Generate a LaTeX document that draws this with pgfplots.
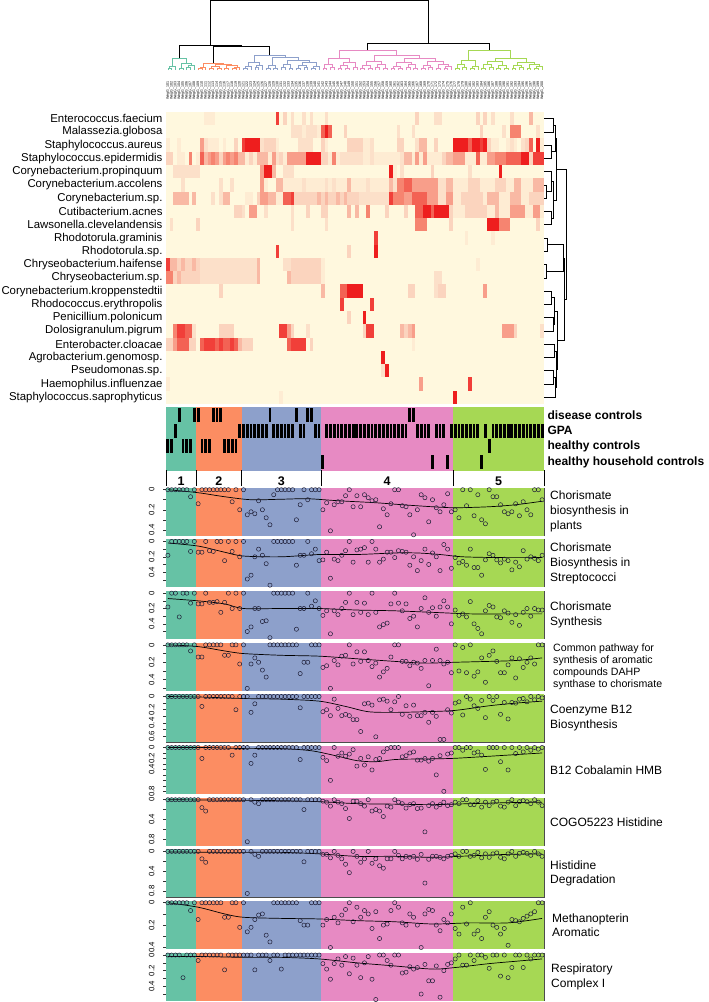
\documentclass[border=0pt]{standalone}
\usepackage{fontspec}
\setmainfont{Liberation Sans}
\usepackage{pgfplots}
\pgfplotsset{compat=1.18}
\definecolor{cA}{RGB}{102,194,165}
\definecolor{cB}{RGB}{252,141,98}
\definecolor{cC}{RGB}{141,160,203}
\definecolor{cD}{RGB}{231,138,195}
\definecolor{cE}{RGB}{166,216,84}
\definecolor{ptc}{RGB}{30,30,55}
\pgfdeclareplotmark{hcell}{\pgfpathrectangle{\pgfqpoint{-1.95pt}{-6.75pt}}{\pgfqpoint{3.9pt}{13.5pt}}\pgfusepathqfill}
\pgfdeclareplotmark{annbar}{\pgfpathrectangle{\pgfqpoint{-1.4pt}{-7pt}}{\pgfqpoint{2.8pt}{14pt}}\pgfusepathqfill}
\pgfplotsset{
 base/.style={scale only axis, anchor=north west, xmin=-0.5, xmax=99.5},
 panel/.style={base, width=378pt, height=47pt, y dir=reverse, xtick=\empty, ytick pos=left, tick align=outside, major tick length=3pt, axis line style={draw=black!70, line width=0.6pt}, tick style={black!80, line width=0.5pt}, yticklabel style={rotate=90, anchor=south, font=\fontsize{7.8}{8}\selectfont}, yticklabel shift=5pt},
 pts/.style={only marks, mark=o, mark size=2.1pt, mark options={draw=ptc, line width=0.5pt}},
 loess/.style={smooth, black, line width=0.7pt, no marks},
 hm/.style={scatter, only marks, mark=hcell, point meta=explicit}
}
\newcommand{\bg}{%
\addplot[fill=cA, draw=none] coordinates {(-0.5,-1) (7.5,-1) (7.5,5) (-0.5,5)};
\addplot[fill=cB, draw=none] coordinates {(7.5,-1) (19.5,-1) (19.5,5) (7.5,5)};
\addplot[fill=cC, draw=none] coordinates {(19.5,-1) (40.5,-1) (40.5,5) (19.5,5)};
\addplot[fill=cD, draw=none] coordinates {(40.5,-1) (75.5,-1) (75.5,5) (40.5,5)};
\addplot[fill=cE, draw=none] coordinates {(75.5,-1) (99.5,-1) (99.5,5) (75.5,5)};
}
\newcommand{\hrow}[2]{\addplot[hm] table[row sep=\\, x expr=\coordindex, y expr=#1, meta=z] {z\\#2};}
\newcommand{\panel}[7]{%
\begin{axis}[panel, at={(166pt,-#1pt)}, ymin=#2, ymax=#3, ytick={#4}, yticklabels={#5}]
\bg
\addplot[pts] table[row sep=\\, x expr=\coordindex, y=v] {v\\#6};
\addplot[loess] coordinates {#7};
\end{axis}}
\begin{document}
\begin{tikzpicture}
\path[use as bounding box] (0pt,0pt) rectangle (709pt,-1002pt);
% ---------- column dendrogram
\begin{axis}[base, at={(166pt,0pt)}, width=378pt, height=70pt, ymin=0, ymax=70, hide axis, clip=false, unbounded coords=jump]
\addplot[cA, line width=0.6pt] coordinates {(0,0)(0,2)(1,2)(1,0)(nan,nan)(0.5,2)(0.5,4)(2,4)(2,0)(nan,nan)(3,0)(3,2)(4,2)(4,0)(nan,nan)(5,0)(5,3)(6,3)(6,0)(nan,nan)(5.5,3)(5.5,5)(7,5)(7,0)(nan,nan)(3.5,2)(3.5,7)(6.25,7)(6.25,5)(nan,nan)(1.25,4)(1.25,12)(4.875,12)(4.875,7)};
\addplot[cB, line width=0.6pt] coordinates {(8,0)(8,1.5)(9,1.5)(9,0)(nan,nan)(8.5,1.5)(8.5,3)(10,3)(10,0)(nan,nan)(11,0)(11,1.5)(12,1.5)(12,0)(nan,nan)(13,0)(13,2)(14,2)(14,0)(nan,nan)(11.5,1.5)(11.5,3.5)(13.5,3.5)(13.5,2)(nan,nan)(15,0)(15,1.5)(16,1.5)(16,0)(nan,nan)(17,0)(17,1.5)(18,1.5)(18,0)(nan,nan)(17.5,1.5)(17.5,3)(19,3)(19,0)(nan,nan)(15.5,1.5)(15.5,4.5)(18.25,4.5)(18.25,3)(nan,nan)(12.5,3.5)(12.5,5.5)(16.875,5.5)(16.875,4.5)(nan,nan)(9.25,3)(9.25,7)(14.69,7)(14.69,5.5)};
\addplot[cC, line width=0.6pt] coordinates {(20,0)(20,2)(21,2)(21,0)(nan,nan)(20.5,2)(20.5,4)(22,4)(22,0)(nan,nan)(23,0)(23,3)(24,3)(24,0)(nan,nan)(23.5,3)(23.5,5)(25,5)(25,0)(nan,nan)(21.25,4)(21.25,8)(24.25,8)(24.25,5)(nan,nan)(26,0)(26,2)(27,2)(27,0)(nan,nan)(28,0)(28,2)(29,2)(29,0)(nan,nan)(26.5,2)(26.5,5)(28.5,5)(28.5,2)(nan,nan)(30,0)(30,3)(31,3)(31,0)(nan,nan)(32,0)(32,2)(33,2)(33,0)(nan,nan)(30.5,3)(30.5,6)(32.5,6)(32.5,2)(nan,nan)(34,0)(34,2)(35,2)(35,0)(nan,nan)(36,0)(36,3)(37,3)(37,0)(nan,nan)(34.5,2)(34.5,5)(36.5,5)(36.5,3)(nan,nan)(38,0)(38,2)(39,2)(39,0)(nan,nan)(38.5,2)(38.5,4)(40,4)(40,0)(nan,nan)(35.5,5)(35.5,8)(39.25,8)(39.25,4)(nan,nan)(31.5,6)(31.5,10)(37.375,10)(37.375,8)(nan,nan)(27.5,5)(27.5,13)(34.44,13)(34.44,10)(nan,nan)(22.75,8)(22.75,15)(30.97,15)(30.97,13)};
\addplot[cD, line width=0.6pt] coordinates {(41,0)(41,2)(42,2)(42,0)(nan,nan)(43,0)(43,3)(44,3)(44,0)(nan,nan)(41.5,2)(41.5,6)(43.5,6)(43.5,3)(nan,nan)(45,0)(45,2)(46,2)(46,0)(nan,nan)(47,0)(47,2)(48,2)(48,0)(nan,nan)(45.5,2)(45.5,5)(47.5,5)(47.5,2)(nan,nan)(49,0)(49,3)(50,3)(50,0)(nan,nan)(46.5,5)(46.5,8)(49.5,8)(49.5,3)(nan,nan)(42.5,6)(42.5,12)(48,12)(48,8)(nan,nan)(51,0)(51,2)(52,2)(52,0)(nan,nan)(53,0)(53,2)(54,2)(54,0)(nan,nan)(51.5,2)(51.5,5)(53.5,5)(53.5,2)(nan,nan)(55,0)(55,3)(56,3)(56,0)(nan,nan)(57,0)(57,2)(58,2)(58,0)(nan,nan)(55.5,3)(55.5,6)(57.5,6)(57.5,2)(nan,nan)(52.5,5)(52.5,9)(56.5,9)(56.5,6)(nan,nan)(59,0)(59,2)(60,2)(60,0)(nan,nan)(61,0)(61,2)(62,2)(62,0)(nan,nan)(59.5,2)(59.5,4)(61.5,4)(61.5,2)(nan,nan)(63,0)(63,3)(64,3)(64,0)(nan,nan)(65,0)(65,2)(66,2)(66,0)(nan,nan)(63.5,3)(63.5,6)(65.5,6)(65.5,2)(nan,nan)(60.5,4)(60.5,8)(64.5,8)(64.5,6)(nan,nan)(67,0)(67,2)(68,2)(68,0)(nan,nan)(69,0)(69,3)(70,3)(70,0)(nan,nan)(67.5,2)(67.5,5)(69.5,5)(69.5,3)(nan,nan)(71,0)(71,2)(72,2)(72,0)(nan,nan)(73,0)(73,2)(74,2)(74,0)(nan,nan)(73.5,2)(73.5,4)(75,4)(75,0)(nan,nan)(71.5,2)(71.5,6)(74.25,6)(74.25,4)(nan,nan)(68.5,5)(68.5,9)(72.875,9)(72.875,6)(nan,nan)(62.5,8)(62.5,12)(70.69,12)(70.69,9)(nan,nan)(54.5,9)(54.5,15)(66.59,15)(66.59,12)(nan,nan)(45.25,12)(45.25,20)(60.55,20)(60.55,15)};
\addplot[cE, line width=0.6pt] coordinates {(76,0)(76,2)(77,2)(77,0)(nan,nan)(78,0)(78,3)(79,3)(79,0)(nan,nan)(76.5,2)(76.5,6)(78.5,6)(78.5,3)(nan,nan)(80,0)(80,2)(81,2)(81,0)(nan,nan)(80.5,2)(80.5,4)(82,4)(82,0)(nan,nan)(77.5,6)(77.5,10)(81.25,10)(81.25,4)(nan,nan)(83,0)(83,2)(84,2)(84,0)(nan,nan)(85,0)(85,3)(86,3)(86,0)(nan,nan)(83.5,2)(83.5,6)(85.5,6)(85.5,3)(nan,nan)(87,0)(87,2)(88,2)(88,0)(nan,nan)(89,0)(89,2)(90,2)(90,0)(nan,nan)(87.5,2)(87.5,5)(89.5,5)(89.5,2)(nan,nan)(84.5,6)(84.5,9)(88.5,9)(88.5,5)(nan,nan)(91,0)(91,2)(92,2)(92,0)(nan,nan)(93,0)(93,3)(94,3)(94,0)(nan,nan)(91.5,2)(91.5,5)(93.5,5)(93.5,3)(nan,nan)(95,0)(95,2)(96,2)(96,0)(nan,nan)(97,0)(97,2)(98,2)(98,0)(nan,nan)(97.5,2)(97.5,4)(99,4)(99,0)(nan,nan)(95.5,2)(95.5,6)(98.25,6)(98.25,4)(nan,nan)(92.5,5)(92.5,8)(96.875,8)(96.875,6)(nan,nan)(86.5,9)(86.5,12)(94.69,12)(94.69,8)(nan,nan)(79.375,10)(79.375,20)(90.59,20)(90.59,12)};
\addplot[black, line width=0.8pt] coordinates {(11.97,7)(11.97,23.3)(26.86,23.3)(26.86,15)(nan,nan)(3.06,12)(3.06,25)(19.41,25)(19.41,23.3)(nan,nan)(52.9,20)(52.9,26.7)(84.98,26.7)(84.98,20)(nan,nan)(11.24,25)(11.24,69.5)(68.94,69.5)(68.94,26.7)};
\end{axis}
% ---------- heatmap
\begin{axis}[base, at={(166pt,-112pt)}, width=378pt, height=292pt, ymin=-0.5, ymax=21.5, y dir=reverse,
 colormap={hmap}{rgb255(0cm)=(255,248,222) rgb255(3cm)=(251,212,190) rgb255(6cm)=(246,132,112) rgb255(9cm)=(238,30,30)}, point meta min=0, point meta max=9,
 axis line style={draw=none}, tick style={draw=none}, major tick length=0pt,
 ytick={0,...,21},
 yticklabels={Enterococcus.faecium,Malassezia.globosa,Staphylococcus.aureus,Staphylococcus.epidermidis,Corynebacterium.propinquum,Corynebacterium.accolens,Corynebacterium.sp.,Cutibacterium.acnes,Lawsonella.clevelandensis,Rhodotorula.graminis,Rhodotorula.sp.,Chryseobacterium.haifense,Chryseobacterium.sp.,Corynebacterium.kroppenstedtii,Rhodococcus.erythropolis,Penicillium.polonicum,Dolosigranulum.pigrum,Enterobacter.cloacae,Agrobacterium.genomosp.,Pseudomonas.sp.,Haemophilus.influenzae,Staphylococcus.saprophyticus},
 yticklabel style={font=\fontsize{11.4}{12}\selectfont},
 xtick={0,...,99}, xticklabel pos=upper,
 xticklabel={\pgfmathtruncatemacro{\n}{\tick+101}WegG\_\n},
 xticklabel style={rotate=90, anchor=west, font=\fontsize{3.6}{4}\selectfont, text=black}, xticklabel shift=9pt]
\hrow{0}{0\\0\\0\\0\\0\\0\\0\\0\\0\\0\\1\\1\\1\\0\\0\\0\\0\\0\\0\\0\\0\\0\\0\\0\\0\\0\\0\\0\\0\\8\\0\\3\\0\\2\\0\\0\\2\\0\\2\\0\\0\\0\\2\\0\\0\\0\\0\\0\\0\\0\\0\\0\\0\\0\\0\\0\\0\\0\\0\\0\\0\\0\\0\\0\\0\\0\\3\\0\\0\\0\\0\\2\\2\\0\\0\\0\\0\\0\\0\\0\\0\\0\\3\\0\\3\\0\\2\\0\\0\\0\\0\\2\\0\\0\\0\\0\\4\\0\\0\\0\\}
\hrow{1}{0\\0\\0\\0\\0\\0\\0\\0\\0\\0\\0\\0\\0\\0\\0\\0\\0\\0\\0\\0\\0\\0\\0\\0\\0\\0\\0\\0\\0\\0\\0\\0\\0\\2\\2\\2\\1\\2\\2\\2\\1\\7\\9\\7\\0\\0\\0\\3\\0\\0\\0\\0\\0\\0\\0\\0\\0\\0\\0\\0\\0\\2\\0\\0\\0\\2\\0\\0\\0\\0\\0\\0\\0\\0\\0\\0\\0\\0\\0\\0\\0\\0\\0\\3\\0\\0\\0\\0\\0\\2\\0\\6\\6\\6\\0\\0\\0\\0\\2\\0\\}
\hrow{2}{1\\0\\0\\1\\0\\0\\0\\0\\0\\5\\2\\1\\1\\1\\0\\1\\0\\0\\3\\0\\8\\9\\9\\9\\9\\2\\3\\3\\3\\1\\0\\0\\0\\0\\0\\2\\2\\2\\2\\0\\0\\3\\1\\0\\0\\0\\0\\0\\3\\3\\3\\3\\1\\1\\2\\0\\0\\0\\0\\0\\0\\3\\3\\0\\0\\0\\2\\4\\4\\0\\0\\3\\0\\0\\0\\0\\9\\9\\9\\9\\7\\9\\9\\8\\9\\3\\1\\1\\0\\0\\1\\2\\1\\0\\2\\3\\7\\0\\9\\1\\}
\hrow{3}{3\\3\\0\\1\\1\\0\\6\\0\\1\\7\\4\\5\\6\\5\\3\\5\\6\\5\\6\\4\\4\\1\\3\\1\\4\\4\\4\\1\\5\\2\\3\\1\\5\\5\\5\\5\\5\\9\\9\\9\\9\\3\\3\\1\\6\\1\\2\\2\\2\\2\\2\\2\\1\\1\\2\\1\\1\\1\\1\\1\\1\\1\\2\\4\\4\\1\\5\\1\\5\\1\\1\\1\\1\\3\\4\\4\\5\\5\\5\\1\\1\\1\\7\\1\\1\\5\\5\\6\\6\\6\\7\\7\\7\\7\\9\\9\\3\\8\\8\\8\\}
\hrow{4}{0\\0\\2\\2\\2\\2\\2\\2\\2\\0\\0\\0\\0\\0\\0\\0\\0\\0\\0\\0\\0\\0\\0\\0\\0\\5\\9\\9\\4\\0\\0\\2\\2\\2\\0\\0\\0\\0\\0\\0\\0\\0\\0\\0\\0\\0\\0\\0\\0\\0\\0\\0\\0\\0\\0\\0\\0\\0\\0\\9\\1\\0\\2\\0\\0\\0\\0\\0\\0\\0\\3\\0\\0\\0\\0\\0\\0\\0\\0\\0\\2\\0\\0\\0\\0\\0\\0\\0\\9\\0\\0\\0\\0\\0\\0\\0\\0\\0\\0\\0\\}
\hrow{5}{0\\0\\0\\0\\2\\0\\0\\0\\0\\0\\0\\0\\0\\0\\2\\0\\0\\2\\0\\0\\0\\0\\0\\0\\0\\5\\1\\0\\0\\4\\4\\1\\1\\1\\1\\1\\2\\1\\1\\1\\1\\1\\2\\1\\2\\1\\1\\1\\4\\1\\1\\1\\1\\2\\1\\1\\1\\1\\1\\4\\2\\6\\6\\7\\7\\5\\5\\5\\5\\5\\5\\5\\2\\2\\4\\4\\1\\1\\1\\1\\3\\3\\3\\1\\1\\1\\1\\3\\3\\3\\1\\1\\4\\4\\1\\1\\1\\4\\4\\4\\}
\hrow{6}{0\\0\\4\\4\\4\\4\\0\\4\\0\\0\\0\\0\\2\\0\\2\\4\\4\\0\\0\\0\\0\\1\\1\\0\\3\\5\\5\\4\\4\\1\\1\\7\\7\\8\\3\\3\\3\\3\\3\\3\\4\\3\\4\\3\\3\\4\\3\\4\\3\\3\\3\\2\\2\\2\\2\\2\\2\\2\\2\\8\\6\\6\\6\\5\\5\\7\\7\\7\\7\\5\\5\\5\\2\\2\\5\\5\\1\\1\\3\\3\\3\\3\\3\\3\\1\\4\\4\\4\\1\\1\\1\\4\\4\\4\\1\\1\\3\\3\\3\\3\\}
\hrow{7}{0\\0\\0\\0\\0\\0\\0\\0\\0\\0\\0\\0\\0\\0\\0\\0\\0\\0\\3\\3\\2\\0\\5\\5\\0\\0\\2\\0\\0\\0\\0\\0\\0\\2\\0\\0\\0\\3\\0\\0\\0\\3\\3\\0\\0\\0\\0\\0\\4\\0\\4\\0\\0\\6\\0\\0\\0\\0\\3\\0\\0\\0\\0\\3\\0\\0\\7\\7\\9\\9\\7\\9\\9\\9\\9\\3\\1\\1\\1\\3\\3\\3\\3\\3\\3\\1\\1\\4\\1\\1\\1\\5\\5\\5\\5\\1\\1\\5\\5\\1\\}
\hrow{8}{0\\2\\0\\0\\0\\0\\0\\0\\3\\0\\0\\0\\0\\0\\0\\0\\0\\0\\0\\0\\0\\0\\0\\0\\0\\0\\0\\0\\0\\0\\0\\0\\0\\2\\0\\0\\0\\0\\0\\0\\0\\0\\2\\0\\0\\0\\0\\0\\0\\0\\0\\0\\0\\0\\0\\0\\0\\0\\0\\0\\0\\0\\0\\0\\0\\0\\6\\6\\6\\0\\0\\0\\0\\0\\0\\3\\0\\0\\0\\0\\0\\0\\0\\0\\0\\9\\9\\9\\6\\6\\6\\0\\0\\0\\0\\0\\0\\0\\3\\0\\}
\hrow{9}{0\\0\\0\\0\\0\\0\\0\\0\\0\\0\\0\\0\\0\\0\\0\\0\\0\\0\\0\\0\\0\\0\\0\\0\\0\\0\\0\\0\\0\\0\\0\\0\\0\\0\\0\\0\\0\\0\\0\\0\\0\\0\\0\\0\\0\\0\\0\\0\\0\\0\\0\\0\\0\\0\\0\\8\\0\\0\\0\\0\\0\\0\\0\\0\\0\\0\\0\\0\\0\\0\\0\\0\\0\\0\\0\\0\\0\\0\\0\\1\\0\\0\\0\\0\\0\\0\\1\\0\\0\\0\\0\\0\\0\\0\\0\\0\\0\\0\\0\\0\\}
\hrow{10}{0\\0\\0\\0\\0\\0\\0\\0\\0\\0\\0\\0\\0\\0\\0\\0\\0\\0\\0\\0\\0\\0\\0\\0\\0\\0\\0\\0\\0\\8\\0\\0\\0\\0\\0\\0\\0\\0\\0\\0\\0\\0\\0\\0\\0\\0\\0\\0\\3\\0\\0\\0\\0\\0\\0\\9\\0\\0\\0\\0\\0\\0\\0\\0\\0\\0\\0\\0\\0\\0\\0\\0\\0\\0\\0\\0\\0\\0\\0\\0\\0\\0\\0\\0\\0\\0\\0\\0\\0\\0\\0\\0\\0\\0\\0\\0\\0\\0\\0\\0\\}
\hrow{11}{8\\4\\4\\3\\4\\3\\3\\4\\3\\2\\2\\2\\2\\2\\2\\2\\2\\2\\2\\2\\2\\2\\2\\2\\4\\0\\0\\0\\0\\0\\0\\2\\2\\3\\3\\3\\3\\3\\3\\3\\3\\1\\0\\0\\0\\0\\0\\0\\0\\0\\0\\0\\0\\0\\0\\0\\0\\0\\0\\0\\0\\0\\0\\0\\0\\0\\0\\0\\0\\0\\0\\0\\0\\0\\0\\0\\0\\0\\0\\0\\0\\0\\1\\0\\0\\0\\0\\0\\0\\0\\0\\0\\0\\0\\0\\0\\0\\0\\0\\0\\}
\hrow{12}{6\\6\\3\\4\\3\\3\\3\\3\\3\\2\\2\\2\\2\\2\\2\\2\\2\\2\\2\\2\\2\\2\\2\\2\\4\\0\\0\\0\\0\\0\\0\\0\\4\\3\\3\\3\\3\\3\\3\\3\\3\\1\\0\\0\\0\\0\\0\\0\\0\\0\\0\\0\\0\\0\\0\\0\\0\\0\\0\\0\\0\\0\\0\\0\\0\\0\\0\\0\\0\\0\\0\\2\\2\\0\\0\\0\\0\\0\\0\\0\\0\\0\\0\\0\\0\\0\\0\\0\\0\\0\\0\\0\\0\\0\\0\\0\\0\\0\\0\\0\\}
\hrow{13}{0\\0\\0\\0\\0\\0\\0\\0\\0\\0\\0\\0\\0\\0\\3\\0\\0\\0\\0\\0\\0\\0\\0\\0\\0\\0\\0\\0\\0\\0\\0\\0\\0\\0\\0\\0\\0\\0\\0\\0\\0\\4\\0\\0\\0\\0\\7\\7\\9\\9\\9\\9\\0\\0\\0\\0\\0\\0\\0\\0\\0\\0\\0\\0\\3\\3\\0\\0\\0\\0\\0\\2\\3\\3\\0\\0\\0\\0\\0\\0\\0\\0\\0\\0\\5\\0\\0\\0\\0\\0\\0\\0\\0\\0\\0\\0\\0\\0\\0\\0\\}
\hrow{14}{0\\0\\0\\0\\0\\0\\0\\0\\0\\0\\0\\0\\0\\0\\0\\0\\0\\0\\0\\0\\0\\0\\0\\0\\0\\0\\0\\0\\0\\0\\0\\0\\0\\0\\0\\0\\0\\0\\0\\0\\0\\0\\0\\0\\0\\0\\8\\0\\0\\0\\0\\0\\0\\0\\8\\0\\0\\0\\0\\0\\0\\0\\0\\0\\0\\0\\0\\0\\0\\0\\0\\0\\0\\0\\0\\0\\0\\0\\0\\0\\0\\0\\0\\0\\0\\0\\0\\0\\0\\0\\0\\0\\0\\0\\0\\0\\0\\0\\0\\0\\}
\hrow{15}{0\\0\\0\\0\\0\\0\\0\\0\\0\\0\\0\\0\\0\\0\\0\\0\\0\\0\\0\\0\\0\\0\\0\\0\\0\\0\\0\\0\\0\\0\\0\\0\\0\\0\\0\\0\\0\\0\\0\\0\\0\\0\\0\\0\\0\\0\\0\\0\\3\\0\\0\\0\\9\\0\\0\\0\\0\\0\\0\\0\\0\\0\\0\\0\\0\\0\\0\\0\\0\\0\\0\\0\\0\\0\\0\\0\\0\\0\\0\\0\\0\\0\\0\\0\\0\\0\\0\\0\\0\\0\\0\\0\\0\\0\\0\\0\\0\\0\\0\\0\\}
\hrow{16}{0\\0\\6\\8\\8\\7\\7\\2\\0\\0\\0\\0\\0\\0\\3\\3\\3\\3\\0\\0\\0\\0\\0\\0\\0\\0\\0\\0\\0\\0\\8\\8\\5\\3\\0\\0\\0\\2\\0\\0\\0\\0\\0\\0\\0\\0\\0\\0\\0\\0\\0\\0\\3\\8\\8\\0\\0\\0\\0\\0\\0\\0\\4\\3\\4\\5\\0\\0\\0\\0\\0\\0\\0\\0\\0\\0\\0\\0\\0\\0\\0\\0\\0\\0\\0\\0\\0\\0\\0\\5\\5\\5\\3\\0\\0\\0\\0\\0\\0\\2\\}
\hrow{17}{3\\3\\5\\7\\7\\7\\3\\3\\0\\7\\8\\8\\8\\7\\8\\7\\7\\8\\7\\4\\3\\3\\3\\0\\0\\0\\0\\0\\0\\0\\0\\0\\7\\8\\8\\8\\8\\0\\3\\0\\0\\0\\0\\0\\0\\0\\0\\0\\0\\0\\0\\0\\0\\0\\0\\0\\0\\0\\0\\0\\0\\0\\0\\0\\0\\1\\0\\0\\0\\0\\0\\0\\0\\0\\0\\0\\0\\0\\0\\0\\0\\0\\0\\0\\0\\0\\0\\0\\0\\0\\0\\0\\0\\0\\0\\0\\0\\0\\0\\0\\}
\hrow{18}{0\\0\\0\\0\\0\\0\\0\\0\\0\\0\\0\\0\\0\\0\\0\\0\\0\\0\\0\\0\\0\\0\\0\\0\\0\\0\\0\\0\\0\\0\\0\\0\\0\\0\\0\\0\\0\\0\\0\\0\\0\\0\\0\\0\\0\\0\\0\\0\\0\\0\\0\\0\\0\\0\\0\\0\\0\\9\\0\\0\\0\\0\\0\\0\\0\\0\\0\\0\\0\\0\\0\\0\\0\\0\\0\\0\\0\\0\\0\\0\\0\\0\\0\\0\\0\\0\\0\\0\\0\\0\\0\\0\\0\\0\\0\\0\\0\\0\\0\\0\\}
\hrow{19}{0\\0\\0\\0\\0\\0\\0\\0\\0\\0\\0\\0\\0\\0\\0\\0\\0\\0\\0\\0\\0\\0\\0\\0\\0\\0\\0\\0\\0\\0\\0\\0\\0\\0\\0\\0\\0\\0\\0\\0\\0\\0\\0\\0\\0\\0\\0\\0\\0\\0\\0\\0\\0\\0\\0\\0\\0\\2\\9\\0\\0\\0\\0\\0\\0\\0\\0\\0\\0\\0\\0\\0\\0\\0\\0\\0\\0\\0\\0\\0\\0\\0\\0\\0\\0\\0\\0\\0\\0\\0\\0\\0\\0\\0\\0\\0\\0\\0\\0\\0\\}
\hrow{20}{1\\0\\0\\0\\0\\0\\0\\0\\0\\0\\0\\0\\0\\0\\0\\0\\0\\0\\0\\0\\0\\0\\0\\0\\0\\0\\0\\0\\0\\0\\0\\0\\0\\0\\0\\0\\0\\0\\0\\0\\0\\0\\0\\0\\0\\0\\0\\0\\0\\0\\0\\0\\0\\0\\0\\0\\0\\0\\0\\0\\0\\0\\0\\0\\0\\0\\0\\5\\0\\0\\0\\0\\0\\0\\0\\0\\0\\0\\0\\0\\8\\0\\0\\0\\0\\0\\0\\0\\0\\0\\0\\0\\0\\0\\0\\0\\0\\0\\0\\0\\}
\hrow{21}{0\\0\\0\\0\\0\\0\\0\\0\\0\\0\\0\\0\\0\\0\\0\\0\\0\\0\\0\\0\\0\\0\\0\\0\\0\\0\\0\\0\\0\\0\\1\\0\\0\\0\\0\\0\\0\\0\\0\\0\\0\\0\\0\\0\\0\\0\\0\\0\\0\\0\\0\\0\\0\\0\\0\\0\\0\\0\\0\\0\\0\\0\\0\\0\\0\\0\\0\\0\\0\\0\\0\\0\\0\\0\\0\\0\\9\\0\\0\\0\\0\\0\\0\\0\\0\\0\\0\\0\\0\\0\\0\\0\\0\\0\\0\\0\\0\\0\\0\\0\\}
\end{axis}
% ---------- row dendrogram
\begin{axis}[scale only axis, anchor=north west, at={(544pt,-112pt)}, width=23pt, height=292pt, xmin=0, xmax=23, ymin=-0.5, ymax=21.5, y dir=reverse, hide axis, clip=false, unbounded coords=jump]
\addplot[black, line width=0.7pt] coordinates {(0,0)(9,0)(9,1)(0,1)(nan,nan)(0,2)(7,2)(7,3)(0,3)(nan,nan)(9,0.5)(11,0.5)(11,2.5)(7,2.5)(nan,nan)(0,5)(2,5)(2,6)(0,6)(nan,nan)(0,4)(7,4)(7,5.5)(2,5.5)(nan,nan)(0,7)(7,7)(7,8)(0,8)(nan,nan)(7,4.75)(9,4.75)(9,7.5)(7,7.5)(nan,nan)(11,1.5)(12,1.5)(12,6.125)(9,6.125)(nan,nan)(0,9)(3,9)(3,10)(0,10)(nan,nan)(0,11)(2,11)(2,12)(0,12)(nan,nan)(3,9.5)(19,9.5)(19,11.5)(2,11.5)(nan,nan)(0,13)(7,13)(7,14)(0,14)(nan,nan)(0,15)(9,15)(9,16)(0,16)(nan,nan)(7,13.5)(10,13.5)(10,15.5)(9,15.5)(nan,nan)(0,17)(10,17)(10,18)(0,18)(nan,nan)(0,19)(9,19)(9,20)(0,20)(nan,nan)(9,19.5)(11,19.5)(11,21)(0,21)(nan,nan)(10,17.5)(12,17.5)(12,20.25)(11,20.25)(nan,nan)(10,14.5)(13,14.5)(13,18.875)(12,18.875)(nan,nan)(19,10.5)(20,10.5)(20,16.69)(13,16.69)(nan,nan)(12,3.81)(22.5,3.81)(22.5,13.6)(20,13.6)};
\end{axis}
% ---------- annotation bar
\begin{axis}[base, at={(166pt,-407pt)}, width=378pt, height=63pt, ymin=-0.5, ymax=3.5, y dir=reverse, xtick=\empty, ytick={0,1,2,3},
 yticklabels={disease controls,GPA,healthy controls,healthy household controls}, yticklabel pos=right,
 axis line style={draw=none}, tick style={draw=none}, major tick length=0pt,
 yticklabel style={anchor=west, font=\bfseries\fontsize{12}{13}\selectfont}]
\bg
\addplot[only marks, mark=annbar, black] coordinates {(3,0)(7,0)(8,0)(12,0)(13,0)(14,0)(27,0)(34,0)(37,0)(38,0)(64,0)(65,0)};
\addplot[only marks, mark=annbar, black] coordinates {(2,1)(19,1)(20,1)(21,1)(22,1)(23,1)(24,1)(25,1)(26,1)(28,1)(29,1)(30,1)(31,1)(32,1)(33,1)(35,1)(36,1)(39,1)(40,1)(42,1)(43,1)(44,1)(45,1)(46,1)(47,1)(48,1)(49,1)(50,1)(51,1)(52,1)(53,1)(54,1)(55,1)(56,1)(57,1)(58,1)(59,1)(60,1)(61,1)(62,1)(63,1)(66,1)(67,1)(68,1)(69,1)(71,1)(72,1)(73,1)(75,1)(76,1)(77,1)(78,1)(79,1)(80,1)(81,1)(82,1)(84,1)(86,1)(87,1)(88,1)(89,1)(90,1)(91,1)(92,1)(93,1)(94,1)(95,1)(96,1)(97,1)(98,1)(99,1)};
\addplot[only marks, mark=annbar, black] coordinates {(0,2)(1,2)(4,2)(5,2)(6,2)(9,2)(10,2)(11,2)(15,2)(16,2)(17,2)(18,2)(85,2)};
\addplot[only marks, mark=annbar, black] coordinates {(41,3)(70,3)(74,3)(83,3)};
\end{axis}
% ---------- cluster numbers
\begin{axis}[base, at={(166pt,-470pt)}, width=378pt, height=17pt, ymin=0, ymax=1, hide axis, clip=false, unbounded coords=jump]
\addplot[black, line width=0.8pt] coordinates {(-0.5,0.05)(-0.5,1)(nan,nan)(7.5,0.05)(7.5,1)(nan,nan)(19.5,0.05)(19.5,1)(nan,nan)(40.5,0.05)(40.5,1)(nan,nan)(75.5,0.05)(75.5,1)(nan,nan)(99.5,0.05)(99.5,1)};
\node[font=\bfseries\fontsize{12.5}{13}\selectfont] at (axis cs:3.5,0.33) {1};
\node[font=\bfseries\fontsize{12.5}{13}\selectfont] at (axis cs:13.5,0.33) {2};
\node[font=\bfseries\fontsize{12.5}{13}\selectfont] at (axis cs:30,0.33) {3};
\node[font=\bfseries\fontsize{12.5}{13}\selectfont] at (axis cs:58,0.33) {4};
\node[font=\bfseries\fontsize{12.5}{13}\selectfont] at (axis cs:87.5,0.33) {5};
\end{axis}
% ---------- panels
\panel{488}{-0.017}{0.452}{0,0.1,0.2,0.3,0.4}{0,,0.2,,0.4}{0\\0\\0\\0\\0\\0\\0.07\\0\\0.14\\0\\0\\0\\0\\0\\0\\0\\0\\0.12\\0\\0.2\\0\\0.25\\0.22\\0.24\\0.11\\0.2\\0.28\\0.35\\0.05\\0\\0\\0\\0\\0\\0.3\\0.15\\0\\0.1\\0\\0\\0\\0.2\\0.13\\0.41\\0.15\\0.12\\0.12\\0.06\\0\\0.17\\0.06\\0.17\\0.05\\0.08\\0.11\\0.1\\0.37\\0.19\\0.25\\0.14\\0\\0\\0.16\\0.17\\0.25\\0.45\\0.2\\0.05\\0.08\\0.32\\0.1\\0.18\\0.22\\0.15\\0.04\\0.22\\0.2\\0.28\\0\\0.16\\0\\0.26\\0.05\\0.3\\0.34\\0\\0.07\\0.07\\0.15\\0.22\\0.24\\0.22\\0.14\\0.26\\0.12\\0.2\\0.25\\0\\0\\0.1\\}{(0,0)(8,0.03)(15,0.07)(22,0.1)(30,0.095)(37,0.09)(45,0.11)(55,0.13)(62,0.15)(70,0.17)(76,0.18)(85,0.17)(92,0.15)(99,0.115)}
\panel{539.7}{-0.023}{0.59}{0,0.1,0.2,0.3,0.4,0.5}{0,,0.2,,0.4,}{0.18\\0\\0\\0\\0\\0\\0.13\\0\\0.14\\0.14\\0\\0.12\\0.13\\0\\0\\0.25\\0\\0.13\\0\\0.2\\0\\0.49\\0.44\\0.2\\0.1\\0.18\\0.29\\0.57\\0\\0\\0\\0\\0\\0\\0.31\\0.18\\0.18\\0\\0.16\\0.1\\0.25\\0.24\\0.14\\0.48\\0.23\\0.25\\0.18\\0.12\\0\\0.27\\0.11\\0.1\\0.08\\0.27\\0\\0.1\\0.27\\0.23\\0.14\\0.14\\0.21\\0.12\\0.13\\0.14\\0.31\\0.2\\0.38\\0.25\\0.1\\0.3\\0.15\\0.2\\0.38\\0.04\\0.1\\0.35\\0.21\\0.28\\0.26\\0.31\\0.1\\0.34\\0.34\\0.44\\0.24\\0.16\\0.18\\0.24\\0.28\\0.23\\0.25\\0.37\\0.27\\0.33\\0.12\\0.23\\0.2\\0.22\\0.25\\0.18\\}{(0,0.02)(8,0.06)(15,0.14)(20,0.19)(30,0.2)(40,0.17)(50,0.17)(60,0.15)(66,0.15)(72,0.17)(78,0.2)(88,0.21)(99,0.21)}
\panel{591.4}{-0.023}{0.59}{0,0.1,0.2,0.3,0.4,0.5}{0,,0.2,,0.4,}{0.18\\0\\0\\0.31\\0\\0\\0.13\\0\\0.14\\0.14\\0\\0.12\\0.12\\0.11\\0.25\\0.12\\0\\0.2\\0\\0.2\\0\\0.5\\0.44\\0.2\\0.2\\0.37\\0.36\\0.58\\0\\0\\0\\0\\0\\0\\0.47\\0.2\\0.2\\0\\0.17\\0.1\\0.2\\0.29\\0.23\\0.53\\0.23\\0.28\\0.2\\0.12\\0\\0.28\\0.12\\0.25\\0.13\\0.28\\0\\0.25\\0.44\\0.41\\0.39\\0.14\\0\\0.13\\0.23\\0.14\\0.33\\0.3\\0.44\\0.2\\0.06\\0.25\\0.19\\0.3\\0.18\\0.1\\0.18\\0.4\\0.22\\0.29\\0.27\\0.31\\0.11\\0.4\\0.46\\0.53\\0.23\\0.16\\0.18\\0.31\\0.32\\0.23\\0.26\\0.38\\0.28\\0.42\\0.25\\0.2\\0.3\\0.2\\0.22\\0.22\\}{(0,0.07)(8,0.1)(15,0.14)(20,0.2)(30,0.2)(40,0.2)(50,0.22)(60,0.23)(70,0.25)(80,0.27)(90,0.27)(99,0.27)}
\panel{643.1}{-0.02}{0.52}{0,0.1,0.2,0.3,0.4,0.5}{0,,0.2,,0.4,}{0\\0\\0\\0\\0\\0\\0.07\\0\\0.14\\0.14\\0\\0\\0\\0\\0\\0.12\\0.12\\0\\0\\0.22\\0\\0.5\\0.22\\0.15\\0.2\\0.29\\0.37\\0\\0\\0\\0\\0\\0\\0\\0\\0.33\\0.2\\0.2\\0\\0\\0\\0.26\\0.24\\0.5\\0.18\\0.23\\0.13\\0.12\\0\\0.22\\0.08\\0.19\\0.08\\0.18\\0.25\\0.21\\0.37\\0.31\\0.27\\0.14\\0\\0\\0.19\\0.19\\0.24\\0.2\\0.21\\0.27\\0.18\\0.47\\0.18\\0.05\\0.18\\0.22\\0.2\\0.32\\0\\0.3\\0.03\\0.32\\0\\0.36\\0.31\\0.15\\0.43\\0.12\\0.07\\0.19\\0.32\\0.32\\0.23\\0.15\\0.38\\0.16\\0.26\\0.2\\0.15\\0.22\\0\\0\\}{(0,0)(8,0.02)(15,0.07)(20,0.1)(30,0.12)(40,0.13)(50,0.16)(60,0.19)(68,0.21)(76,0.2)(85,0.19)(92,0.18)(99,0.15)}
\panel{694.8}{-0.026}{0.686}{0,0.1,0.2,0.3,0.4,0.5,0.6}{0,,0.2,,0.4,,0.6}{0\\0\\0\\0\\0\\0\\0\\0\\0\\0.15\\0\\0\\0\\0\\0\\0\\0\\0\\0.2\\0\\0\\0\\0.24\\0.11\\0\\0\\0\\0\\0\\0\\0\\0\\0\\0\\0\\0.17\\0\\0\\0\\0\\0\\0.23\\0.2\\0.29\\0.04\\0.18\\0.29\\0.27\\0.29\\0.35\\0.35\\0.53\\0.11\\0.1\\0.13\\0.61\\0.05\\0.04\\0.07\\0.2\\0.08\\0\\0.27\\0.14\\0.3\\0.13\\0.29\\0.29\\0.24\\0.39\\0.24\\0.3\\0.65\\0.65\\0.2\\0.25\\0.1\\0.08\\0.28\\0\\0.04\\0.14\\0.18\\0.06\\0.32\\0\\0.06\\0\\0.27\\0.09\\0.34\\0.09\\0.1\\0.04\\0.03\\0.08\\0\\0.05\\0\\0.02\\}{(0,0)(10,0.01)(20,0.03)(30,0.04)(40,0.07)(47,0.15)(53,0.23)(60,0.24)(68,0.23)(76,0.21)(85,0.14)(92,0.1)(99,0.07)}
\panel{746.5}{-0.018}{0.84}{0,0.1,0.2,0.3,0.4,0.5,0.6,0.7,0.8}{0,,0.2,,0.4,,,,0.8}{0\\0\\0\\0\\0\\0\\0\\0\\0\\0.2\\0\\0\\0\\0\\0\\0\\0\\0.14\\0\\0\\0\\0\\0.29\\0.14\\0\\0\\0\\0\\0\\0\\0\\0\\0\\0\\0\\0.22\\0\\0\\0\\0\\0\\0.18\\0.24\\0.6\\0\\0.16\\0.1\\0.16\\0.12\\0.04\\0.34\\0.2\\0.32\\0.17\\0.41\\0.22\\0.2\\0.08\\0.02\\0\\0\\0\\0.17\\0.15\\0.1\\0.08\\0.23\\0.23\\0.2\\0.25\\0.2\\0.5\\0.15\\0.8\\0.12\\0.1\\0\\0\\0.05\\0\\0\\0.1\\0.08\\0.14\\0.4\\0\\0\\0\\0.26\\0\\0.41\\0\\0.11\\0\\0.08\\0\\0.05\\0\\0.03\\0\\}{(0,0)(10,0)(20,0.02)(30,0.02)(38,0.06)(45,0.16)(50,0.24)(55,0.26)(60,0.22)(66,0.21)(75,0.2)(85,0.16)(92,0.13)(99,0.1)}
\panel{798.2}{-0.03}{0.92}{0,0.2,0.4,0.6,0.8}{0,,0.4,,0.8}{0\\0\\0\\0\\0\\0\\0\\0\\0\\0.16\\0.23\\0\\0\\0\\0\\0\\0\\0\\0\\0\\0\\0.85\\0\\0.05\\0.08\\0\\0\\0\\0\\0\\0\\0\\0\\0\\0\\0\\0.2\\0\\0\\0\\0\\0.03\\0.05\\0.13\\0\\0.05\\0.08\\0.18\\0.38\\0.03\\0.03\\0.08\\0.13\\0\\0.23\\0.2\\0.23\\0.34\\0.13\\0.15\\0\\0.05\\0.08\\0.17\\0.1\\0.08\\0.18\\0.17\\0.65\\0.12\\0.08\\0.15\\0.1\\0.05\\0.12\\0.1\\0.05\\0.08\\0\\0\\0.1\\0.1\\0.02\\0.15\\0.05\\0.12\\0.05\\0.03\\0.13\\0.15\\0.05\\0\\0.12\\0.04\\0.02\\0.04\\0.08\\0\\0.05\\0.12\\}{(0,0)(15,0.01)(30,0.02)(40,0.04)(50,0.08)(60,0.09)(70,0.1)(80,0.08)(90,0.06)(99,0.05)}
\panel{849.9}{-0.03}{0.92}{0,0.2,0.4,0.6,0.8}{0,,0.4,,0.8}{0\\0\\0\\0\\0\\0\\0\\0\\0\\0.15\\0.22\\0\\0\\0\\0\\0\\0\\0\\0\\0\\0\\0.85\\0\\0.06\\0.1\\0\\0\\0\\0\\0\\0\\0\\0\\0\\0\\0\\0.21\\0\\0\\0\\0\\0.06\\0.06\\0.13\\0\\0.08\\0.15\\0.26\\0.43\\0\\0.1\\0.22\\0.15\\0\\0.24\\0.15\\0.29\\0.34\\0.15\\0.15\\0\\0.08\\0.15\\0.1\\0.12\\0.1\\0.16\\0.06\\0.64\\0.16\\0.1\\0.1\\0.12\\0.15\\0.1\\0.08\\0.05\\0.1\\0\\0\\0.1\\0.08\\0.02\\0.13\\0.05\\0.12\\0.05\\0.03\\0.12\\0.15\\0.05\\0\\0.1\\0.04\\0.02\\0.04\\0.08\\0\\0.05\\0.1\\}{(0,0.01)(15,0.02)(30,0.02)(40,0.05)(50,0.1)(60,0.1)(70,0.12)(80,0.09)(90,0.06)(99,0.05)}
\panel{901.6}{-0.01}{0.41}{0,0.1,0.2,0.3,0.4}{0,,0.2,,0.4}{0\\0\\0\\0\\0\\0\\0.07\\0\\0.15\\0\\0\\0\\0\\0\\0\\0.13\\0.13\\0\\0\\0.22\\0\\0.26\\0.22\\0.15\\0.11\\0.1\\0.29\\0.35\\0\\0\\0\\0\\0\\0\\0\\0.16\\0.2\\0.2\\0\\0\\0\\0.2\\0.15\\0.4\\0.13\\0.18\\0.11\\0.06\\0\\0.17\\0.04\\0.13\\0.07\\0.1\\0.23\\0.08\\0.32\\0.2\\0.19\\0.07\\0\\0.04\\0.18\\0.2\\0.1\\0.13\\0.2\\0.4\\0.1\\0.06\\0.07\\0.2\\0.25\\0.15\\0.18\\0.1\\0.23\\0.28\\0.04\\0.19\\0\\0.28\\0.25\\0.32\\0.13\\0.08\\0.2\\0.22\\0.28\\0.23\\0.38\\0.15\\0.16\\0.17\\0.14\\0.12\\0.1\\0.08\\0\\0\\}{(0,0)(8,0.04)(15,0.1)(20,0.13)(30,0.14)(40,0.145)(50,0.16)(60,0.17)(70,0.19)(80,0.18)(90,0.18)(99,0.14)}
\panel{953.3}{-0.022}{0.58}{0,0.1,0.2,0.3,0.4,0.5}{0,,0.2,,0.4,}{0\\0\\0\\0\\0.29\\0\\0\\0\\0.07\\0\\0\\0\\0\\0\\0\\0.19\\0\\0\\0\\0\\0\\0\\0\\0.19\\0\\0\\0\\0.07\\0\\0\\0.18\\0\\0\\0\\0\\0\\0\\0\\0\\0\\0\\0.11\\0.18\\0.31\\0.11\\0.05\\0.13\\0.02\\0.24\\0.04\\0.13\\0.29\\0.1\\0.02\\0.31\\0.57\\0\\0\\0.07\\0.13\\0\\0\\0.23\\0.22\\0.15\\0.18\\0.16\\0.5\\0.12\\0.33\\0.33\\0.14\\0.54\\0.2\\0.12\\0.1\\0.05\\0\\0.13\\0.13\\0\\0.07\\0\\0\\0.03\\0.17\\0\\0\\0.27\\0\\0.29\\0.16\\0\\0\\0.16\\0\\0.05\\0\\0\\0\\}{(0,0.02)(10,0.02)(20,0.03)(30,0.03)(40,0.05)(50,0.1)(60,0.14)(70,0.18)(76,0.16)(85,0.11)(92,0.08)(99,0.05)}
% ---------- panel labels
\begin{scope}[every node/.style={anchor=west, align=left, inner sep=0pt, font=\fontsize{12}{14.7}\selectfont}]
\node at (550pt,-511.5pt) {Chorismate\\biosynthesis in\\plants};
\node at (550pt,-563.2pt) {Chorismate\\Biosynthesis in\\Streptococci};
\node at (550pt,-614.9pt) {Chorismate\\Synthesis};
\node[font=\fontsize{10.6}{12.2}\selectfont] at (553pt,-666.6pt) {Common pathway for\\synthesis of aromatic\\compounds DAHP\\synthase to chorismate};
\node at (550pt,-718.3pt) {Coenzyme B12\\Biosynthesis};
\node at (550pt,-770pt) {B12 Cobalamin HMB};
\node at (550pt,-821.7pt) {COGO5223 Histidine};
\node at (550pt,-873.4pt) {Histidine\\Degradation};
\node at (552pt,-925.1pt) {Methanopterin\\Aromatic};
\node at (551pt,-976.8pt) {Respiratory\\Complex I};
\end{scope}
\end{tikzpicture}
\end{document}
